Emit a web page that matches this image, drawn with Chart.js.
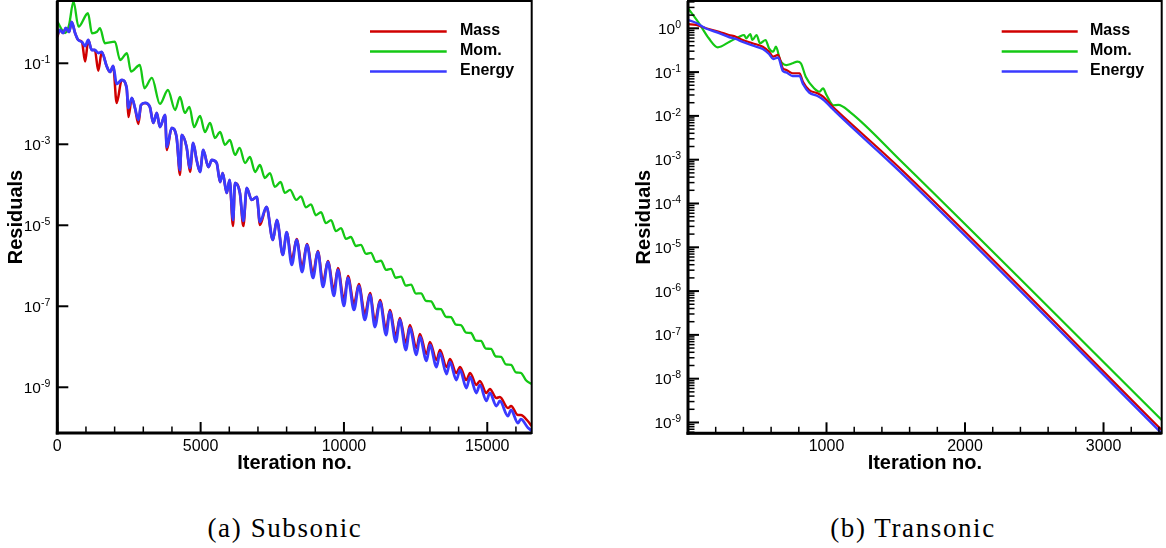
<!DOCTYPE html>
<html>
<head>
<meta charset="utf-8">
<script src="https://cdn.jsdelivr.net/npm/chart.js@4.4.1/dist/chart.umd.min.js"></script>
<style>
html,body{margin:0;padding:0;background:#fff;width:1166px;height:548px;overflow:hidden;}
canvas{position:absolute;top:0;}
#ca{left:0;}
#cb{left:620px;}
.cap{position:absolute;top:512px;width:260px;text-align:center;font-family:"Liberation Serif","Times New Roman",serif;font-size:27px;letter-spacing:1.6px;line-height:32px;color:#000;white-space:nowrap;}
#capA{left:155px;}
#capB{left:783px;}
</style>
</head>
<body>
<canvas id="ca" width="545" height="480"></canvas>
<canvas id="cb" width="546" height="480"></canvas>
<div class="cap" id="capA">(a) Subsonic</div>
<div class="cap" id="capB">(b) Transonic</div>
<script>
const FONT = '"Liberation Sans", Arial, Helvetica, sans-serif';
const seriesNames = ['Mass', 'Mom.', 'Energy'];
const seriesColors = ['#d00000', '#14c814', '#3a3aff'];

// ---------- (a) Subsonic ----------
const iterSub = [0,90,200,300,410,500,620,730,860,970,1080,1200,1310,1430,1550,1720,1840,1950,2070,2250,2420,2480,2600,2710,2830,2920,3060,3230,3350,3470,3580,3760,3820,3990,4160,4280,4340,4510,4630,4740,4860,4980,5090,5270,5390,5560,5680,5770,5910,6010,6130,6200,6370,6490,6610,6780,6960,7070,7300,7520,7660,7870,8000,
  8180,8350,8540,8710,8920,9090,9270,9440,9650,9790,10000,10140,10350,10520,10730,10910,11080,11260,11470,11600,11810,11950,12160,12300,12530,12650,12880,13000,13230,13350,13580,13700,13920,14050,14270,14400,14620,14740,14970,15090,15320,15440,15720,15830,16070,16170,16420,16550];
const energySub = [0.50,0.664,0.56,0.744,0.593,1.05,0.56,0.376,0.336,0.267,0.376,0.213,0.213,0.1795,0.190,0.0857,0.0610,0.0857,0.0308,0.0387,0.0245,0.00787,0.0139,0.00787,0.00398,0.00933,0.0105,0.00834,0.00336,0.00593,0.00267,0.00528,0.000857,0.00252,0.00151,0.000232,0.00170,0.000857,0.000260,0.001076,0.000409,0.000207,0.000723,0.000275,0.000409,0.000345,0.000117,0.000195,0.0000628,0.0001315,0.0000135,0.0001107,0.0000628,0.0000128,0.0000834,0.0000422,0.0000500,0.0000121,0.0000283,0.00000434,0.0000135,0.00000185,0.00000676,
  1.05e-6,4.34e-6,7.03e-7,3.27e-6,5.00e-7,2.19e-6,3.00e-7,1.24e-6,1.80e-7,7.87e-7,1.02e-7,5.00e-7,8.11e-8,3.17e-7,4.59e-8,1.90e-7,3.08e-8,1.28e-7,1.95e-8,7.23e-8,1.31e-8,4.59e-8,8.30e-9,2.91e-8,6.28e-9,1.75e-8,4.47e-9,1.11e-8,3.17e-9,7.03e-9,2.13e-9,4.22e-9,1.51e-9,2.67e-9,9.61e-10,1.80e-9,7.23e-10,1.14e-9,4.59e-10,7.24e-10,3.45e-10,4.59e-10,1.95e-10,2.75e-10,1.31e-10,1.64e-10,1.0e-10,8.5e-11];
const massSub = [0.45,0.664,0.56,0.744,0.593,1.05,0.56,0.376,0.336,0.11,0.376,0.213,0.213,0.065,0.190,0.0857,0.0610,0.0857,0.0105,0.0387,0.0245,0.00472,0.0139,0.00787,0.00318,0.00933,0.0105,0.00834,0.00336,0.00593,0.00267,0.00528,0.000724,0.00252,0.00151,0.000175,0.00170,0.000857,0.000207,0.001076,0.000409,0.000207,0.000723,0.000275,0.000409,0.000345,0.000117,0.000195,0.0000628,0.0001315,0.0000096,0.0001107,0.0000628,0.0000096,0.0000834,0.0000422,0.0000500,0.0000102,0.0000283,0.00000434,0.0000135,0.00000185,0.00000676,
  1.40e-6,4.59e-6,9.35e-7,3.46e-6,6.65e-7,2.32e-6,3.99e-7,1.31e-6,2.53e-7,8.81e-7,1.43e-7,5.60e-7,1.14e-7,3.55e-7,6.45e-8,2.13e-7,4.33e-8,1.43e-7,2.74e-8,8.10e-8,1.84e-8,5.14e-8,1.24e-8,3.45e-8,9.35e-9,2.08e-8,6.66e-9,1.32e-8,4.72e-9,8.34e-9,3.17e-9,5.00e-9,2.25e-9,3.17e-9,1.51e-9,2.26e-9,1.14e-9,1.43e-9,7.23e-10,9.09e-10,5.44e-10,5.76e-10,3.07e-10,3.45e-10,2.06e-10,2.06e-10,1.45e-10,1.1e-10];
const iterMomSub = [0,270,410,565,740,1070,1210,1385,1490,1660,2010,2190,2430,2570,2880,3040,3300,3580,3860,4110,4280,4450,4610,4770,4980,5150,5330,5500,5680,5850,6020,6200,6360,6550,6720,6900,7070,7240,7420,7590,7790,7940,8120,8340,
  8500,8670,8850,9020,9200,9370,9550,9720,9900,10070,10240,10420,10590,10770,10940,11120,11290,11470,11640,11810,11990,12160,12340,12510,12690,12860,13040,13210,13380,13560,13730,13910,14080,14260,14430,14600,14780,14950,15130,15300,15480,15650,15830,16000,16170,16350,16550];
const momSub = [1.06,0.56,0.88,3.36,0.80,1.72,0.55,0.60,0.74,0.312,0.341,0.1205,0.177,0.0621,0.0908,0.0242,0.0434,0.00989,0.0219,0.00703,0.01472,0.00593,0.00834,0.00267,0.0050,0.00201,0.00336,0.00143,0.00201,0.000962,0.001277,0.000545,0.000811,0.000345,0.000485,0.000207,0.000308,0.000147,0.000195,8.83e-5,1.17e-4,6.28e-5,7.45e-5,4.22e-5,
  5.2e-5,2.78e-5,3.30e-5,1.77e-5,2.10e-5,1.13e-5,1.34e-5,7.19e-6,8.53e-6,4.59e-6,5.14e-6,3.08e-6,3.27e-6,1.97e-6,2.08e-6,1.25e-6,1.33e-6,7.96e-7,8.43e-7,5.06e-7,5.38e-7,3.23e-7,3.41e-7,2.06e-7,2.09e-7,1.36e-7,1.33e-7,8.67e-8,8.47e-8,5.50e-8,5.38e-8,3.52e-8,3.44e-8,2.23e-8,2.19e-8,1.42e-8,1.39e-8,9.03e-9,8.87e-9,5.75e-9,5.63e-9,3.67e-9,3.59e-9,2.33e-9,2.28e-9,1.49e-9,1.2e-9];
const xTicksSub = [0, 5000, 10000, 15000];
const xMinorSub = [1000,2000,3000,4000,6000,7000,8000,9000,11000,12000,13000,14000,16000];
const yTicksSub = [1e-1, 1e-3, 1e-5, 1e-7, 1e-9];

// ---------- (b) Transonic ----------
const iterTrans = [0,60,130,225,295,345,395,465,540,585,615,650,685,710,755,805,830,875,935,975,1045,1070,1530,3420];
const massTrans = [1.25,1.19,1.0,0.836,0.703,0.643,0.541,0.455,0.380,0.292,0.225,0.246,0.122,0.1117,0.094,0.094,0.0604,0.039,0.0328,0.0274,0.0162,0.0136,6.37e-4,6.74e-10];
const energyTrans = [1.55,1.32,0.99,0.78,0.633,0.57,0.487,0.405,0.337,0.259,0.199,0.215,0.106,0.098,0.0815,0.0815,0.0535,0.0342,0.0285,0.0237,0.0144,0.01197,5.32e-4,5.66e-10];
const iterMomTrans = [0,80,150,215,300,370,405,420,450,465,495,520,560,585,615,635,665,710,755,790,815,850,910,950,975,1000,1050,1085,1170,1530,3420];
const momTrans = [2.9,1.30,0.591,0.368,0.494,0.643,0.703,0.591,0.741,0.541,0.703,0.455,0.541,0.349,0.292,0.380,0.189,0.145,0.159,0.173,0.159,0.0785,0.0427,0.0357,0.0427,0.030,0.0175,0.0178,0.0122,9.84e-4,1.14e-9];
const xTicksTrans = [1000, 2000, 3000];
const xMinorTrans = [200,400,600,800,1200,1400,1600,1800,2200,2400,2600,2800,3200,3400];
const yTicksTrans = [1e0,1e-1,1e-2,1e-3,1e-4,1e-5,1e-6,1e-7,1e-8,1e-9];

function pts(xs, ys) { return xs.map((x, i) => ({ x: x, y: ys[i] })); }

function line(ctx, x1, y1, x2, y2) { ctx.beginPath(); ctx.moveTo(x1, y1); ctx.lineTo(x2, y2); ctx.stroke(); }

function supLabel(ctx, xRight, y, exp) {
  ctx.fillStyle = '#000';
  ctx.textAlign = 'left';
  ctx.textBaseline = 'alphabetic';
  ctx.font = '15.5px ' + FONT;
  const wb = ctx.measureText('10').width;
  ctx.font = '10.5px ' + FONT;
  const we = ctx.measureText(exp).width;
  const x0 = xRight - wb - we;
  ctx.font = '15.5px ' + FONT;
  ctx.fillText('10', x0, y + 5.5);
  ctx.font = '10.5px ' + FONT;
  ctx.fillText(exp, x0 + wb, y - 0.2);
}

function decor(cfg) {
  return {
    id: 'decor',
    afterDatasetsDraw(chart) {
      const ctx = chart.ctx, a = chart.chartArea, xs = chart.scales.x, ys = chart.scales.y;
      ctx.save();
      ctx.strokeStyle = '#000';
      // x ticks (inward)
      ctx.lineWidth = 1.5;
      cfg.xMinor.forEach(v => { const p = xs.getPixelForValue(v); line(ctx, p, a.bottom, p, a.bottom - 6.5); });
      ctx.lineWidth = 2;
      cfg.xMajor.forEach(v => { const p = xs.getPixelForValue(v); line(ctx, p, a.bottom, p, a.bottom - 11); });
      // y ticks (inward)
      ctx.lineWidth = 1.5;
      cfg.yMinor.forEach(v => { const p = ys.getPixelForValue(v); line(ctx, a.left, p, a.left + 6.5, p); });
      ctx.lineWidth = 2;
      cfg.yMajor.forEach(v => { const p = ys.getPixelForValue(v); line(ctx, a.left, p, a.left + 11, p); });
      // frame
      ctx.lineWidth = 2;
      ctx.strokeRect(a.left, a.top, a.right - a.left, a.bottom - a.top);
      ctx.lineWidth = 3;
      line(ctx, a.left, a.top, a.left, a.bottom + 1.5);
      line(ctx, a.left - 1.5, a.bottom, a.right, a.bottom);
      // y tick labels with superscript exponents
      cfg.yMajor.forEach(v => {
        const e = Math.round(Math.log10(v));
        supLabel(ctx, a.left - 7, ys.getPixelForValue(v), String(e));
      });
      // legend
      chart.data.datasets.forEach((ds, i) => {
        const ly = cfg.legY[i];
        ctx.strokeStyle = ds.borderColor;
        ctx.lineWidth = 2.5;
        line(ctx, cfg.legX1, ly + 1, cfg.legX2, ly + 1);
        ctx.fillStyle = '#000';
        ctx.font = 'bold 16px ' + FONT;
        ctx.textAlign = 'left';
        ctx.textBaseline = 'middle';
        ctx.fillText(ds.label, cfg.legTX, ly);
      });
      ctx.restore();
    }
  };
}

function makeChart(id, opt) {
  const datasets = [
    { label: seriesNames[0], data: pts(opt.iterME, opt.mass), borderColor: seriesColors[0], borderWidth: opt.bw[0], order: 1 },
    { label: seriesNames[1], data: pts(opt.iterMom, opt.mom), borderColor: seriesColors[1], borderWidth: opt.bw[1], order: 2 },
    { label: seriesNames[2], data: pts(opt.iterME, opt.energy), borderColor: seriesColors[2], borderWidth: opt.bw[2], order: 0 }
  ];
  datasets.forEach(d => { d.pointRadius = 0; d.fill = false; d.cubicInterpolationMode = 'monotone'; d.backgroundColor = d.borderColor; });
  return new Chart(document.getElementById(id), {
    type: 'line',
    data: { datasets: datasets },
    options: {
      responsive: false,
      animation: false,
      parsing: false,
      normalized: true,
      events: [],
      layout: { padding: { top: 1, right: opt.padRight, left: 0, bottom: 0 } },
      plugins: { legend: { display: false }, tooltip: { enabled: false } },
      scales: {
        x: {
          type: 'linear', min: opt.xMin, max: opt.xMax,
          grid: { display: false, drawTicks: false },
          border: { display: false },
          ticks: { autoSkip: false, maxRotation: 0, padding: 4, color: '#000', font: { family: FONT, size: 16 }, callback: v => String(v) },
          afterBuildTicks: s => { s.ticks = opt.xTicks.map(v => ({ value: v })); },
          afterFit: s => { s.height = opt.xH; },
          title: { display: true, text: 'Iteration no.', color: '#000', font: { family: FONT, size: 20, weight: 'bold' }, padding: { top: 0, bottom: 4.5 } }
        },
        y: {
          type: 'logarithmic', min: opt.yMin, max: opt.yMax,
          grid: { display: false, drawTicks: false },
          border: { display: false },
          ticks: { display: false },
          afterFit: s => { s.width = opt.yW; },
          title: { display: true, text: 'Residuals', color: '#000', font: { family: FONT, size: 20, weight: 'bold' }, padding: { top: opt.yTitlePad, bottom: 0 } }
        }
      }
    },
    plugins: [decor(opt.decor)]
  });
}

function logMinors(lo, hi) {
  const out = [];
  for (let k = -11; k <= 1; k++) for (let d = 2; d <= 9; d++) { const v = d * Math.pow(10, k); if (v > lo && v < hi) out.push(v); }
  return out;
}

makeChart('ca', {
  iterME: iterSub, mass: massSub, energy: energySub, iterMom: iterMomSub, mom: momSub,
  bw: [2.5, 2.3, 2.8],
  xMin: 0, xMax: 16550, yMin: 7.43e-11, yMax: 3.45,
  xTicks: xTicksSub, xH: 47, yW: 57.3, padRight: 13.3, yTitlePad: 4.3,
  decor: { xMajor: xTicksSub, xMinor: xMinorSub, yMajor: yTicksSub, yMinor: [], legX1: 370, legX2: 446.7, legTX: 460, legY: [30.5, 50.5, 70.5] }
});

makeChart('cb', {
  iterME: iterTrans, mass: massTrans, energy: energyTrans, iterMom: iterMomTrans, mom: momTrans,
  bw: [2.2, 2.2, 2.4],
  xMin: 0, xMax: 3420, yMin: 5.66e-10, yMax: 4.2,
  xTicks: xTicksTrans, xH: 46.7, yW: 68, padRight: 4.3, yTitlePad: 12.7,
  decor: { xMajor: xTicksTrans, xMinor: xMinorTrans, yMajor: yTicksTrans, yMinor: logMinors(5.66e-10, 4.2), legX1: 381.7, legX2: 457.7, legTX: 470, legY: [30.5, 50.5, 70.5] }
});
</script>
</body>
</html>
